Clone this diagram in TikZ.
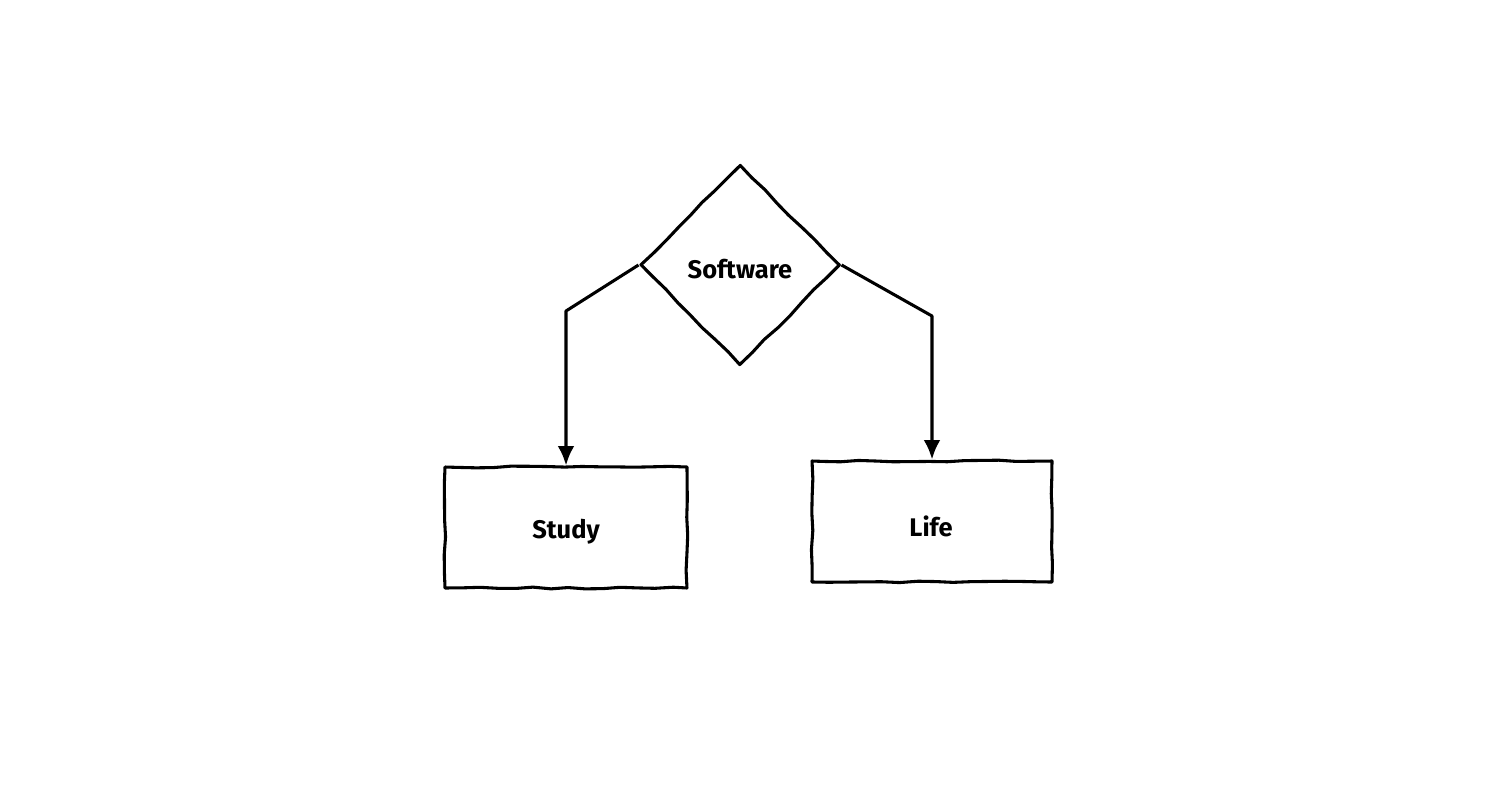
\documentclass[tikz,border=0pt]{standalone}
\usepackage{fontspec}
\setmainfont{Fira Sans}
\usetikzlibrary{shapes.geometric,arrows.meta,decorations.pathmorphing}
\begin{document}
\begin{tikzpicture}[x=0.02cm,y=-0.02cm,
  sketch/.style={draw=black,line width=1.75pt,decorate,
    decoration={random steps,segment length=10pt,amplitude=0.5pt},line join=round},
  boxnode/.style={sketch,rectangle,inner sep=0pt},
  dianode/.style={sketch,diamond,aspect=1,inner sep=0pt,minimum width=4cm,minimum height=4.02cm},
  link/.style={draw=black,line width=1.75pt,line join=round,-{Latex[length=11pt,width=9.5pt]}},
  lbl/.style={font=\bfseries\fontsize{14.5}{17}\selectfont}]
\pgfmathsetseed{7}
\useasboundingbox (0,0) rectangle (1502,802);
\node[dianode] (sw) at (740,265) {};
\node[lbl] (swt) at (740,269) {Software};
\node[boxnode,minimum width=4.84cm,minimum height=2.42cm] (study) at (566,527.5) {};
\node[lbl] (studyt) at (566,532) {Study};
\node[boxnode,minimum width=4.8cm,minimum height=2.42cm] (life) at (932,521.5) {};
\node[lbl] (lifet) at (931,526) {Life};
\coordinate (lb) at (566,311);
\coordinate (rb) at (932,316);
\draw[link] (sw.west) -- (lb) -- (study.north);
\draw[link] (sw.east) -- (rb) -- (life.north);
\end{tikzpicture}
\end{document}
